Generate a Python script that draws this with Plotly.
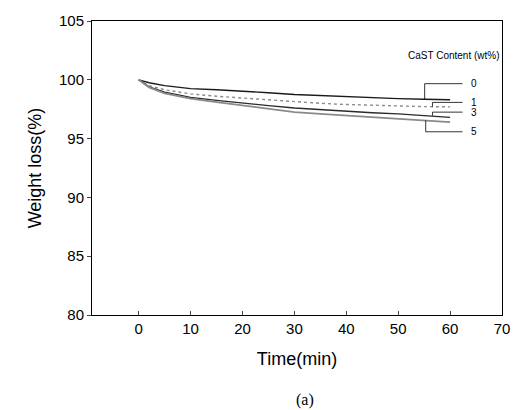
import plotly.graph_objects as go

time_min = [0, 2, 5, 10, 15, 20, 25, 30, 35, 40, 45, 50, 55, 60]
content_labels = ["0", "1", "3", "5"]
w0 = [100, 99.75, 99.5, 99.25, 99.15, 99.05, 98.9, 98.75, 98.65, 98.55, 98.5, 98.4, 98.35, 98.3]
w1 = [100, 99.5, 99.15, 98.8, 98.6, 98.45, 98.25, 98.1, 98.0, 97.9, 97.82, 97.75, 97.72, 97.7]
w3 = [100, 99.4, 98.95, 98.5, 98.25, 98.0, 97.8, 97.6, 97.45, 97.3, 97.2, 97.1, 96.95, 96.8]
w5 = [100, 99.35, 98.85, 98.4, 98.1, 97.8, 97.5, 97.25, 97.1, 96.95, 96.8, 96.7, 96.55, 96.4]
x_ticks = [0, 10, 20, 30, 40, 50, 60, 70]
y_ticks = [80, 85, 90, 95, 100, 105]

series = [w0, w1, w3, w5]
styles = [
    dict(color="#1a1a1a", width=1.4, dash="solid"),
    dict(color="#8c8c8c", width=1.4, dash="dot"),
    dict(color="#2a2a2a", width=1.3, dash="solid"),
    dict(color="#8a8a8a", width=1.8, dash="solid"),
]

fig = go.Figure()
for lab, ys, st in zip(content_labels, series, styles):
    fig.add_trace(go.Scatter(x=time_min, y=ys, mode="lines", name=lab, line=st, showlegend=False))

# leader lines to labels: (x of vertical, y on curve, y of label)
leaders = [
    (55.1, w0[-2], 99.67),
    (56.6, w1[-2], 98.08),
    (56.6, w3[-2], 97.25),
    (55.3, w5[-2], 95.58),
]
for (xc, ys, yl), lab in zip(leaders, content_labels):
    fig.add_shape(type="line", x0=xc, y0=ys, x1=xc, y1=yl, line=dict(color="black", width=0.8))
    fig.add_shape(type="line", x0=xc, y0=yl, x1=62.4, y1=yl, line=dict(color="black", width=0.8))
    fig.add_annotation(x=63.6, y=yl, text=lab, showarrow=False, xanchor="left",
                       font=dict(family="Liberation Sans, Arial", size=10, color="black"))

fig.add_annotation(x=1, xref="paper", y=102.1, text="CaST Content (wt%)", showarrow=False,
                   xanchor="right", font=dict(family="Liberation Sans, Arial", size=10, color="black"))
fig.add_annotation(x=0.52, xref="paper", y=-0.29, yref="paper", text="(a)", showarrow=False,
                   yanchor="middle",
                   font=dict(family="Liberation Serif, Times New Roman", size=16, color="black"))

fig.update_layout(
    width=522, height=410,
    margin=dict(l=92, r=20, t=15, b=95),
    plot_bgcolor="white", paper_bgcolor="white",
    font=dict(family="Liberation Sans, Arial", color="black"),
    xaxis=dict(range=[-9, 70], tickvals=x_ticks, ticks="inside", ticklen=4,
               showline=True, linecolor="black", linewidth=1, mirror=True,
               showgrid=False, zeroline=False, tickfont=dict(size=15),
               title=dict(text="Time(min)", font=dict(size=18), standoff=16)),
    yaxis=dict(range=[80, 105], tickvals=y_ticks, ticks="outside", ticklen=4,
               showline=True, linecolor="black", linewidth=1, mirror=True,
               showgrid=False, zeroline=False, tickfont=dict(size=15),
               title=dict(text="Weight loss(%)", font=dict(size=18), standoff=12)),
)

fig.write_html("out.html")
